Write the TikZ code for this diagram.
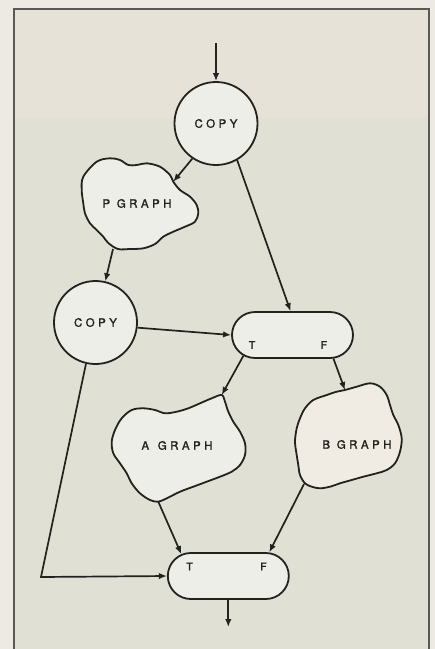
\documentclass[tikz,border=0pt]{standalone}
\usepackage{fontspec}
\usetikzlibrary{shapes.misc,arrows.meta}
\newfontfamily\lblfont[LetterSpace=30,FakeBold=1.4]{TeX Gyre Heros}
\definecolor{ink}{HTML}{22221E}
\definecolor{marginc}{HTML}{ECEAE3}
\definecolor{upperc}{HTML}{E7E2D8}
\definecolor{lowerc}{HTML}{E0E1D4}
\definecolor{nodefill}{HTML}{EEEEE8}
\definecolor{warmfill}{HTML}{F0ECE4}
\tikzset{
  edge/.style={draw=ink, line width=1.7pt},
  arr/.style={edge, -{Latex[length=8pt,width=6.5pt]}},
  copynode/.style={circle, draw=ink, line width=1.8pt, fill=nodefill, minimum size=83pt, inner sep=0pt,
     font=\lblfont\fontsize{11.5}{13}\selectfont, text=ink},
  testbox/.style={rounded rectangle, draw=ink, line width=1.8pt, fill=nodefill, minimum width=121pt,
     minimum height=46pt, inner sep=0pt},
  cloudshape/.style={draw=ink, line width=1.8pt, fill=nodefill},
  lbl/.style={font=\lblfont\fontsize{11.5}{13}\selectfont, text=ink, inner sep=1pt},
  tf/.style={font=\lblfont\fontsize{10.5}{12}\selectfont, text=ink, inner sep=1pt},
  frame/.style={draw=ink!75, line width=1.5pt}
}
\begin{document}
\begin{tikzpicture}[x=1pt,y=-1pt]
\useasboundingbox (0,0) rectangle (435,649);
\fill[marginc] (0,0) rectangle (435,649);
\fill[upperc] (14,9) rectangle (429,118);
\fill[lowerc] (14,118) rectangle (429,649);
\draw[frame] (14,670) -- (14,9) -- (429,9) -- (429,670);

% clouds
\draw[cloudshape] plot[smooth cycle, tension=0.55] coordinates {
 (83.3,176.7) (96.7,161.7) (110,158.3) (120,160) (128.3,165) (136.7,165) (146.7,163.3)
 (160,166.7) (170,175) (173.3,181.7) (180,190) (190,196.7) (196.7,205) (198.3,213.3)
 (195,221.7) (185,226.7) (173.3,231.7) (163.3,236.7) (155,244) (143.3,248.3) (130,249)
 (118,249) (108.3,243) (103.3,236.7) (96.7,230) (90,223.3) (85,213.3) (83.3,203.3) (81.7,190)};
\draw[cloudshape] plot[smooth cycle, tension=0.55] coordinates {
 (221.7,395) (225,401.7) (228.3,411.7) (233.3,421.7) (240,431.7) (245,443.3) (245,455)
 (240,465) (231.7,471.7) (220,476.7) (206.7,481.7) (193.3,486.7) (180,491.7) (166.7,498.3)
 (158.3,501.7) (150,500) (140,493.3) (131.7,483.3) (126.7,473.3) (120,463.3) (113.3,453.3)
 (111.7,441.7) (115,430) (121.7,418.3) (131.7,410) (143.3,408.3) (155,410) (165,413.3)
 (176.7,411.7) (188.3,408.3) (200,403.3) (211.7,398.3)};
\draw[cloudshape, fill=warmfill] plot[smooth cycle, tension=0.55] coordinates {
 (345,390) (356.7,386.7) (370,383.3) (380,386.7) (386.7,395) (390,405) (393.3,415)
 (398.3,425) (401.7,438.3) (400,451.7) (395,463.3) (386.7,470) (376.7,473.3) (363.3,476.7)
 (351.7,480) (340,483.3) (330,486.7) (320,488.3) (311.7,486.7) (305,483.3) (300,475)
 (298.3,465) (296.7,455) (295,441.7) (296.7,428.3) (300,418.3) (305,408.3) (313.3,400)
 (326.7,395) (336.7,391.7)};

% attach points on clouds
\coordinate (pTop) at (173.3,181.7);
\coordinate (pBot) at (113,249);
\coordinate (aTop) at (221.7,395);
\coordinate (aBot) at (158.3,501.7);
\coordinate (bTop) at (345,390);
\coordinate (bBot) at (304,484);
\coordinate (inTop) at (216,43);
\coordinate (outBot) at (228.3,627);
\coordinate (bend) at (41,577);

% nodes
\node[copynode] (c1) at (216,123.5) {COPY};
\node[copynode] (c2) at (95.5,322.5) {COPY};
\node[testbox] (b1) at (292.5,335) {};
\node[testbox] (b2) at (228.3,576) {};
\node[tf] (b1t) at (252,345) {T};
\node[tf] (b1f) at (324,345) {F};
\node[tf] (b2t) at (189.5,566.5) {T};
\node[tf] (b2f) at (263.5,566.5) {F};
\node[lbl] (pg) at (137,203.5) {P GRAPH};
\node[lbl] (ag) at (177,445.5) {A\kern2pt\ GRAPH};
\node[lbl] (bg) at (357,444.5) {B GRAPH};

% connectors
\draw[arr] (inTop) -- (c1.north);
\draw[arr] (c1.-124) -- (pTop);
\draw[arr] (c1.-60) -- ([xshift=-2pt]b1.north);
\draw[arr] (pBot) -- (c2);
\draw[arr] (c2.-7) -- (b1.west);
\draw[arr] (b1.-157) -- (aTop);
\draw[arr] (b1.-30) -- (bTop);
\draw[arr] (aBot) -- (b2.155);
\draw[arr] (bBot) -- (b2.30);
\draw[arr] (c2.-103) -- (bend) -- (b2.west);
\draw[arr] (b2.south) -- (outBot);
\end{tikzpicture}
\end{document}
